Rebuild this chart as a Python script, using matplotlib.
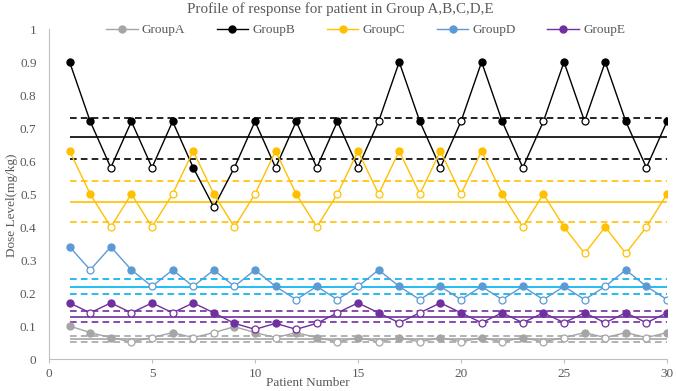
import numpy as np
import matplotlib.pyplot as plt
from matplotlib.lines import Line2D

plt.rcParams['font.family'] = ['Liberation Serif', 'DejaVu Serif']

patients = list(range(1, 31))

group_a = [0.1, 0.08, 0.065, 0.052, 0.065, 0.08, 0.065, 0.08, 0.098, 0.08,
           0.065, 0.08, 0.065, 0.052, 0.065, 0.052, 0.065, 0.052, 0.065, 0.052,
           0.065, 0.052, 0.065, 0.052, 0.065, 0.08, 0.065, 0.08, 0.065, 0.08]
fill_a = [1, 1, 1, 0, 0, 1, 0, 0, 1, 1, 0, 1, 1, 0, 1,
          0, 1, 0, 1, 0, 1, 0, 1, 0, 0, 1, 0, 1, 0, 1]

group_b = [0.9, 0.72, 0.58, 0.72, 0.58, 0.72, 0.58, 0.46, 0.58, 0.72,
           0.58, 0.72, 0.58, 0.72, 0.58, 0.72, 0.9, 0.72, 0.58, 0.72,
           0.9, 0.72, 0.58, 0.72, 0.9, 0.72, 0.9, 0.72, 0.58, 0.72]
fill_b = [1, 1, 0, 1, 0, 1, 1, 0, 0, 1, 0, 1, 0, 1, 0,
          0, 1, 1, 0, 0, 1, 1, 0, 0, 1, 0, 1, 1, 0, 1]

group_c = [0.63, 0.5, 0.4, 0.5, 0.4, 0.5, 0.63, 0.5, 0.4, 0.5,
           0.63, 0.5, 0.4, 0.5, 0.63, 0.5, 0.63, 0.5, 0.63, 0.5,
           0.63, 0.5, 0.4, 0.5, 0.4, 0.32, 0.4, 0.32, 0.4, 0.5]
fill_c = [1, 1, 0, 1, 0, 0, 1, 1, 0, 0, 1, 1, 0, 0, 1,
          0, 1, 0, 1, 0, 1, 1, 0, 1, 1, 0, 1, 0, 0, 1]

group_d = [0.34, 0.27, 0.34, 0.27, 0.22, 0.27, 0.22, 0.27, 0.22, 0.27,
           0.22, 0.18, 0.22, 0.18, 0.22, 0.27, 0.22, 0.18, 0.22, 0.18,
           0.22, 0.18, 0.22, 0.18, 0.22, 0.18, 0.22, 0.27, 0.22, 0.18]
fill_d = [1, 0, 1, 1, 0, 1, 0, 1, 0, 1, 1, 0, 1, 0, 0,
          1, 1, 0, 1, 0, 1, 0, 1, 0, 1, 0, 0, 1, 1, 0]

group_e = [0.17, 0.14, 0.17, 0.14, 0.17, 0.14, 0.17, 0.14, 0.108, 0.09,
           0.108, 0.09, 0.108, 0.14, 0.17, 0.14, 0.11, 0.14, 0.17, 0.14,
           0.11, 0.14, 0.11, 0.14, 0.11, 0.14, 0.11, 0.14, 0.11, 0.14]
fill_e = [1, 0, 1, 0, 1, 0, 1, 1, 1, 0, 1, 0, 0, 0, 1,
          1, 0, 0, 1, 1, 0, 1, 0, 1, 0, 1, 0, 1, 0, 1]

# mean, upper limit, lower limit
limits_a = [0.062, 0.071, 0.053]
limits_b = [0.672, 0.731, 0.606]
limits_c = [0.477, 0.539, 0.415]
limits_d = [0.219, 0.242, 0.196]
limits_e = [0.128, 0.145, 0.113]

names = ['GroupA', 'GroupB', 'GroupC', 'GroupD', 'GroupE']
colors = ['#A5A5A5', '#000000', '#FFC000', '#5B9BD5', '#7030A0']
limit_colors = ['#A5A5A5', '#000000', '#FFC000', '#00B0F0', '#7030A0']
series = [group_a, group_b, group_c, group_d, group_e]
fills = [fill_a, fill_b, fill_c, fill_d, fill_e]
limits = [limits_a, limits_b, limits_c, limits_d, limits_e]

fig = plt.figure(figsize=(6.76, 3.91), dpi=100)
ax = fig.add_axes([0.0725, 0.0818, 0.9142, 0.844])

x = np.array(patients)
for vals, fl, lim, c, lc in zip(series, fills, limits, colors, limit_colors):
    ax.hlines(lim[0], 1, 30, color=lc, lw=1.2, zorder=2)
    ax.hlines(lim[1:], 1, 30, color=lc, lw=1.2, linestyles=(0, (4, 2.5)), zorder=2)

for vals, fl, c in zip(series, fills, colors):
    v = np.array(vals)
    f = np.array(fl, dtype=bool)
    ax.plot(x, v, color=c, lw=1.0, zorder=3)
    ax.plot(x[f], v[f], ls='none', marker='o', ms=5, color=c, mec=c, zorder=4)
    ax.plot(x[~f], v[~f], ls='none', marker='o', ms=5, mfc='white', mec=c, mew=0.9, zorder=4)

ax.set_xlim(0, 30)
ax.set_ylim(0, 1)
ax.set_xticks(range(0, 31, 5))
ax.set_yticks(np.arange(0, 1.01, 0.1))
ax.set_yticklabels(['0', '0.1', '0.2', '0.3', '0.4', '0.5', '0.6', '0.7', '0.8', '0.9', '1'])
for s in ['top', 'right']:
    ax.spines[s].set_visible(False)
for s in ['left', 'bottom']:
    ax.spines[s].set_color('#BFBFBF')
ax.tick_params(axis='x', colors='#BFBFBF', labelcolor='#595959', length=3, labelsize=9.5)
ax.tick_params(axis='y', length=0, labelcolor='#595959', labelsize=9.5, pad=9)

fig.text(340 / 676, 1 - 9.5 / 391, 'Profile of response for patient in Group A,B,C,D,E',
         color='#595959', fontsize=10.8, ha='center', va='center')
fig.text(12.5 / 676, 1 - 205 / 391, 'Dose Level(mg/kg)',
         color='#595959', fontsize=9.5, rotation=90, ha='center', va='center')
fig.text(308 / 676, 1 - 383 / 391, 'Patient Number', color='#595959', fontsize=9.5,
         ha='center', va='center')

handles = [Line2D([], [], color=c, lw=1.0, marker='o', ms=5) for c in colors]
ax.legend(handles, names, loc='center', bbox_to_anchor=(0.512, 0.997), ncol=5,
          frameon=False, fontsize=9.5, labelcolor='#595959', handlelength=2.4,
          columnspacing=2.4, handletextpad=0.3)

plt.savefig('out.png', dpi=100)
